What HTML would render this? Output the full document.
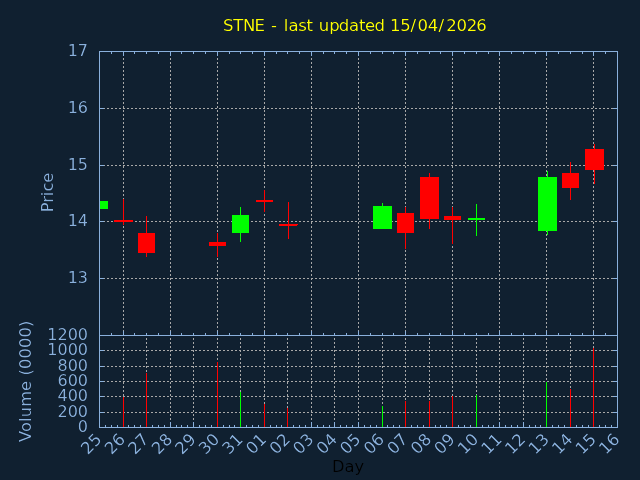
<!DOCTYPE html>
<html><head><meta charset="utf-8"><title>STNE chart</title>
<style>
html,body{margin:0;padding:0;background:#102030;}
svg{display:block;}
.g{stroke:#a8a8a8;stroke-width:1;stroke-dasharray:2 2;fill:none;}
text{font-family:'DejaVu Sans', 'Liberation Sans', sans-serif;font-size:16px;fill:#8ab0dc;}
.t{font-size:16.5px;}
.a{font-size:16.3px;}
</style></head>
<body>
<svg width="640" height="480" viewBox="0 0 640 480" shape-rendering="crispEdges">
<rect x="0" y="0" width="640" height="480" fill="#102030"/>
<g>
<line x1="99" y1="108.5" x2="618" y2="108.5" class="g"/>
<line x1="99" y1="165.5" x2="618" y2="165.5" class="g"/>
<line x1="99" y1="221.5" x2="618" y2="221.5" class="g"/>
<line x1="99" y1="278.5" x2="618" y2="278.5" class="g"/>
<line x1="123.5" y1="336" x2="123.5" y2="51" class="g"/>
<line x1="170.5" y1="336" x2="170.5" y2="51" class="g"/>
<line x1="217.5" y1="336" x2="217.5" y2="51" class="g"/>
<line x1="264.5" y1="336" x2="264.5" y2="51" class="g"/>
<line x1="311.5" y1="336" x2="311.5" y2="51" class="g"/>
<line x1="358.5" y1="336" x2="358.5" y2="51" class="g"/>
<line x1="405.5" y1="336" x2="405.5" y2="51" class="g"/>
<line x1="452.5" y1="336" x2="452.5" y2="51" class="g"/>
<line x1="499.5" y1="336" x2="499.5" y2="51" class="g"/>
<line x1="546.5" y1="336" x2="546.5" y2="51" class="g"/>
<line x1="593.5" y1="336" x2="593.5" y2="51" class="g"/>
<line x1="99" y1="350.5" x2="618" y2="350.5" class="g"/>
<line x1="99" y1="366.5" x2="618" y2="366.5" class="g"/>
<line x1="99" y1="381.5" x2="618" y2="381.5" class="g"/>
<line x1="99" y1="396.5" x2="618" y2="396.5" class="g"/>
<line x1="99" y1="412.5" x2="618" y2="412.5" class="g"/>
<line x1="123.5" y1="428" x2="123.5" y2="335" class="g"/>
<line x1="146.5" y1="428" x2="146.5" y2="335" class="g"/>
<line x1="170.5" y1="428" x2="170.5" y2="335" class="g"/>
<line x1="193.5" y1="428" x2="193.5" y2="335" class="g"/>
<line x1="217.5" y1="428" x2="217.5" y2="335" class="g"/>
<line x1="240.5" y1="428" x2="240.5" y2="335" class="g"/>
<line x1="264.5" y1="428" x2="264.5" y2="335" class="g"/>
<line x1="287.5" y1="428" x2="287.5" y2="335" class="g"/>
<line x1="311.5" y1="428" x2="311.5" y2="335" class="g"/>
<line x1="334.5" y1="428" x2="334.5" y2="335" class="g"/>
<line x1="358.5" y1="428" x2="358.5" y2="335" class="g"/>
<line x1="382.5" y1="428" x2="382.5" y2="335" class="g"/>
<line x1="405.5" y1="428" x2="405.5" y2="335" class="g"/>
<line x1="429.5" y1="428" x2="429.5" y2="335" class="g"/>
<line x1="452.5" y1="428" x2="452.5" y2="335" class="g"/>
<line x1="476.5" y1="428" x2="476.5" y2="335" class="g"/>
<line x1="499.5" y1="428" x2="499.5" y2="335" class="g"/>
<line x1="523.5" y1="428" x2="523.5" y2="335" class="g"/>
<line x1="546.5" y1="428" x2="546.5" y2="335" class="g"/>
<line x1="570.5" y1="428" x2="570.5" y2="335" class="g"/>
<line x1="593.5" y1="428" x2="593.5" y2="335" class="g"/>
</g>
<g fill="#8ab0dc">
<rect x="99" y="51" width="519" height="1"/>
<rect x="99" y="335" width="519" height="1"/>
<rect x="99" y="51" width="1" height="377"/>
<rect x="617" y="51" width="1" height="377"/>
<rect x="99" y="427" width="519" height="1"/>
<rect x="100" y="108" width="4" height="1"/>
<rect x="613" y="108" width="4" height="1"/>
<rect x="100" y="165" width="4" height="1"/>
<rect x="613" y="165" width="4" height="1"/>
<rect x="100" y="221" width="4" height="1"/>
<rect x="613" y="221" width="4" height="1"/>
<rect x="100" y="278" width="4" height="1"/>
<rect x="613" y="278" width="4" height="1"/>
<rect x="111" y="52" width="1" height="2"/>
<rect x="111" y="333" width="1" height="2"/>
<rect x="123" y="52" width="1" height="4"/>
<rect x="123" y="331" width="1" height="4"/>
<rect x="134" y="52" width="1" height="2"/>
<rect x="134" y="333" width="1" height="2"/>
<rect x="146" y="52" width="1" height="2"/>
<rect x="146" y="333" width="1" height="2"/>
<rect x="158" y="52" width="1" height="2"/>
<rect x="158" y="333" width="1" height="2"/>
<rect x="170" y="52" width="1" height="4"/>
<rect x="170" y="331" width="1" height="4"/>
<rect x="181" y="52" width="1" height="2"/>
<rect x="181" y="333" width="1" height="2"/>
<rect x="193" y="52" width="1" height="2"/>
<rect x="193" y="333" width="1" height="2"/>
<rect x="205" y="52" width="1" height="2"/>
<rect x="205" y="333" width="1" height="2"/>
<rect x="217" y="52" width="1" height="4"/>
<rect x="217" y="331" width="1" height="4"/>
<rect x="229" y="52" width="1" height="2"/>
<rect x="229" y="333" width="1" height="2"/>
<rect x="240" y="52" width="1" height="2"/>
<rect x="240" y="333" width="1" height="2"/>
<rect x="252" y="52" width="1" height="2"/>
<rect x="252" y="333" width="1" height="2"/>
<rect x="264" y="52" width="1" height="4"/>
<rect x="264" y="331" width="1" height="4"/>
<rect x="276" y="52" width="1" height="2"/>
<rect x="276" y="333" width="1" height="2"/>
<rect x="287" y="52" width="1" height="2"/>
<rect x="287" y="333" width="1" height="2"/>
<rect x="299" y="52" width="1" height="2"/>
<rect x="299" y="333" width="1" height="2"/>
<rect x="311" y="52" width="1" height="4"/>
<rect x="311" y="331" width="1" height="4"/>
<rect x="323" y="52" width="1" height="2"/>
<rect x="323" y="333" width="1" height="2"/>
<rect x="334" y="52" width="1" height="2"/>
<rect x="334" y="333" width="1" height="2"/>
<rect x="346" y="52" width="1" height="2"/>
<rect x="346" y="333" width="1" height="2"/>
<rect x="358" y="52" width="1" height="4"/>
<rect x="358" y="331" width="1" height="4"/>
<rect x="370" y="52" width="1" height="2"/>
<rect x="370" y="333" width="1" height="2"/>
<rect x="382" y="52" width="1" height="2"/>
<rect x="382" y="333" width="1" height="2"/>
<rect x="393" y="52" width="1" height="2"/>
<rect x="393" y="333" width="1" height="2"/>
<rect x="405" y="52" width="1" height="4"/>
<rect x="405" y="331" width="1" height="4"/>
<rect x="417" y="52" width="1" height="2"/>
<rect x="417" y="333" width="1" height="2"/>
<rect x="429" y="52" width="1" height="2"/>
<rect x="429" y="333" width="1" height="2"/>
<rect x="440" y="52" width="1" height="2"/>
<rect x="440" y="333" width="1" height="2"/>
<rect x="452" y="52" width="1" height="4"/>
<rect x="452" y="331" width="1" height="4"/>
<rect x="464" y="52" width="1" height="2"/>
<rect x="464" y="333" width="1" height="2"/>
<rect x="476" y="52" width="1" height="2"/>
<rect x="476" y="333" width="1" height="2"/>
<rect x="488" y="52" width="1" height="2"/>
<rect x="488" y="333" width="1" height="2"/>
<rect x="499" y="52" width="1" height="4"/>
<rect x="499" y="331" width="1" height="4"/>
<rect x="511" y="52" width="1" height="2"/>
<rect x="511" y="333" width="1" height="2"/>
<rect x="523" y="52" width="1" height="2"/>
<rect x="523" y="333" width="1" height="2"/>
<rect x="535" y="52" width="1" height="2"/>
<rect x="535" y="333" width="1" height="2"/>
<rect x="546" y="52" width="1" height="4"/>
<rect x="546" y="331" width="1" height="4"/>
<rect x="558" y="52" width="1" height="2"/>
<rect x="558" y="333" width="1" height="2"/>
<rect x="570" y="52" width="1" height="2"/>
<rect x="570" y="333" width="1" height="2"/>
<rect x="582" y="52" width="1" height="2"/>
<rect x="582" y="333" width="1" height="2"/>
<rect x="593" y="52" width="1" height="4"/>
<rect x="593" y="331" width="1" height="4"/>
<rect x="605" y="52" width="1" height="2"/>
<rect x="605" y="333" width="1" height="2"/>
<rect x="100" y="350" width="4" height="1"/>
<rect x="613" y="350" width="4" height="1"/>
<rect x="100" y="366" width="4" height="1"/>
<rect x="613" y="366" width="4" height="1"/>
<rect x="100" y="381" width="4" height="1"/>
<rect x="613" y="381" width="4" height="1"/>
<rect x="100" y="396" width="4" height="1"/>
<rect x="613" y="396" width="4" height="1"/>
<rect x="100" y="412" width="4" height="1"/>
<rect x="613" y="412" width="4" height="1"/>
<rect x="105" y="425" width="1" height="2"/>
<rect x="111" y="425" width="1" height="2"/>
<rect x="117" y="425" width="1" height="2"/>
<rect x="123" y="422" width="1" height="5"/>
<rect x="128" y="425" width="1" height="2"/>
<rect x="134" y="425" width="1" height="2"/>
<rect x="140" y="425" width="1" height="2"/>
<rect x="146" y="422" width="1" height="5"/>
<rect x="152" y="425" width="1" height="2"/>
<rect x="158" y="425" width="1" height="2"/>
<rect x="164" y="425" width="1" height="2"/>
<rect x="170" y="422" width="1" height="5"/>
<rect x="176" y="425" width="1" height="2"/>
<rect x="181" y="425" width="1" height="2"/>
<rect x="187" y="425" width="1" height="2"/>
<rect x="193" y="422" width="1" height="5"/>
<rect x="199" y="425" width="1" height="2"/>
<rect x="205" y="425" width="1" height="2"/>
<rect x="211" y="425" width="1" height="2"/>
<rect x="217" y="422" width="1" height="5"/>
<rect x="223" y="425" width="1" height="2"/>
<rect x="229" y="425" width="1" height="2"/>
<rect x="234" y="425" width="1" height="2"/>
<rect x="240" y="422" width="1" height="5"/>
<rect x="246" y="425" width="1" height="2"/>
<rect x="252" y="425" width="1" height="2"/>
<rect x="258" y="425" width="1" height="2"/>
<rect x="264" y="422" width="1" height="5"/>
<rect x="270" y="425" width="1" height="2"/>
<rect x="276" y="425" width="1" height="2"/>
<rect x="281" y="425" width="1" height="2"/>
<rect x="287" y="422" width="1" height="5"/>
<rect x="293" y="425" width="1" height="2"/>
<rect x="299" y="425" width="1" height="2"/>
<rect x="305" y="425" width="1" height="2"/>
<rect x="311" y="422" width="1" height="5"/>
<rect x="317" y="425" width="1" height="2"/>
<rect x="323" y="425" width="1" height="2"/>
<rect x="329" y="425" width="1" height="2"/>
<rect x="334" y="422" width="1" height="5"/>
<rect x="340" y="425" width="1" height="2"/>
<rect x="346" y="425" width="1" height="2"/>
<rect x="352" y="425" width="1" height="2"/>
<rect x="358" y="422" width="1" height="5"/>
<rect x="364" y="425" width="1" height="2"/>
<rect x="370" y="425" width="1" height="2"/>
<rect x="376" y="425" width="1" height="2"/>
<rect x="382" y="422" width="1" height="5"/>
<rect x="387" y="425" width="1" height="2"/>
<rect x="393" y="425" width="1" height="2"/>
<rect x="399" y="425" width="1" height="2"/>
<rect x="405" y="422" width="1" height="5"/>
<rect x="411" y="425" width="1" height="2"/>
<rect x="417" y="425" width="1" height="2"/>
<rect x="423" y="425" width="1" height="2"/>
<rect x="429" y="422" width="1" height="5"/>
<rect x="435" y="425" width="1" height="2"/>
<rect x="440" y="425" width="1" height="2"/>
<rect x="446" y="425" width="1" height="2"/>
<rect x="452" y="422" width="1" height="5"/>
<rect x="458" y="425" width="1" height="2"/>
<rect x="464" y="425" width="1" height="2"/>
<rect x="470" y="425" width="1" height="2"/>
<rect x="476" y="422" width="1" height="5"/>
<rect x="482" y="425" width="1" height="2"/>
<rect x="488" y="425" width="1" height="2"/>
<rect x="493" y="425" width="1" height="2"/>
<rect x="499" y="422" width="1" height="5"/>
<rect x="505" y="425" width="1" height="2"/>
<rect x="511" y="425" width="1" height="2"/>
<rect x="517" y="425" width="1" height="2"/>
<rect x="523" y="422" width="1" height="5"/>
<rect x="529" y="425" width="1" height="2"/>
<rect x="535" y="425" width="1" height="2"/>
<rect x="540" y="425" width="1" height="2"/>
<rect x="546" y="422" width="1" height="5"/>
<rect x="552" y="425" width="1" height="2"/>
<rect x="558" y="425" width="1" height="2"/>
<rect x="564" y="425" width="1" height="2"/>
<rect x="570" y="422" width="1" height="5"/>
<rect x="576" y="425" width="1" height="2"/>
<rect x="582" y="425" width="1" height="2"/>
<rect x="588" y="425" width="1" height="2"/>
<rect x="593" y="422" width="1" height="5"/>
<rect x="599" y="425" width="1" height="2"/>
<rect x="605" y="425" width="1" height="2"/>
<rect x="611" y="425" width="1" height="2"/>
</g>
<g>
<rect x="100" y="201" width="8" height="8" fill="#00ff00"/>
<rect x="123" y="199" width="1" height="26" fill="#ff0000"/>
<rect x="114" y="220" width="19" height="2" fill="#ff0000"/>
<rect x="146" y="216" width="1" height="41" fill="#ff0000"/>
<rect x="138" y="233" width="17" height="20" fill="#ff0000"/>
<rect x="217" y="233" width="1" height="24" fill="#ff0000"/>
<rect x="209" y="242" width="17" height="4" fill="#ff0000"/>
<rect x="240" y="207" width="1" height="35" fill="#00ff00"/>
<rect x="232" y="215" width="17" height="18" fill="#00ff00"/>
<rect x="264" y="190" width="1" height="22" fill="#ff0000"/>
<rect x="256" y="200" width="17" height="2" fill="#ff0000"/>
<rect x="288" y="202" width="1" height="37" fill="#ff0000"/>
<rect x="279" y="224" width="19" height="2" fill="#ff0000"/>
<rect x="382" y="203" width="1" height="3" fill="#00ff00"/>
<rect x="373" y="206" width="19" height="23" fill="#00ff00"/>
<rect x="405" y="207" width="1" height="42" fill="#ff0000"/>
<rect x="397" y="213" width="17" height="20" fill="#ff0000"/>
<rect x="429" y="173" width="1" height="56" fill="#ff0000"/>
<rect x="420" y="177" width="19" height="42" fill="#ff0000"/>
<rect x="452" y="207" width="1" height="37" fill="#ff0000"/>
<rect x="444" y="216" width="17" height="4" fill="#ff0000"/>
<rect x="476" y="204" width="1" height="32" fill="#00ff00"/>
<rect x="468" y="218" width="17" height="2" fill="#00ff00"/>
<rect x="547" y="171" width="1" height="64" fill="#00ff00"/>
<rect x="538" y="177" width="19" height="54" fill="#00ff00"/>
<rect x="570" y="162" width="1" height="38" fill="#ff0000"/>
<rect x="562" y="173" width="17" height="15" fill="#ff0000"/>
<rect x="594" y="144" width="1" height="40" fill="#ff0000"/>
<rect x="585" y="149" width="19" height="21" fill="#ff0000"/>
<rect x="297" y="225" width="1" height="1" fill="#102030"/>
<rect x="123" y="397" width="1" height="30" fill="#ff0000"/>
<rect x="146" y="373" width="1" height="54" fill="#ff0000"/>
<rect x="217" y="362" width="1" height="65" fill="#ff0000"/>
<rect x="240" y="392" width="1" height="35" fill="#00ff00"/>
<rect x="264" y="404" width="1" height="23" fill="#ff0000"/>
<rect x="287" y="408" width="1" height="19" fill="#ff0000"/>
<rect x="382" y="406" width="1" height="21" fill="#00ff00"/>
<rect x="405" y="401" width="1" height="26" fill="#ff0000"/>
<rect x="429" y="401" width="1" height="26" fill="#ff0000"/>
<rect x="452" y="396" width="1" height="31" fill="#ff0000"/>
<rect x="476" y="395" width="1" height="32" fill="#00ff00"/>
<rect x="546" y="382" width="1" height="45" fill="#00ff00"/>
<rect x="570" y="389" width="1" height="38" fill="#ff0000"/>
<rect x="593" y="348" width="1" height="79" fill="#ff0000"/>
</g>
<defs><filter id="thin" x="0" y="0" width="640" height="480" filterUnits="userSpaceOnUse"><feComponentTransfer><feFuncA type="gamma" amplitude="1" exponent="1.5" offset="0"/></feComponentTransfer></filter></defs>
<g filter="url(#thin)">
<text class="t" x="223.03 233.30 243.08 254.52 265.45 271.00 277.65 283.78 288.58 298.29 306.58 312.65 318.70 329.20 338.82 349.10 359.01 364.88 374.54 386.51 389.96 400.24 410.54 417.50 427.70 438.60 446.17 456.55 466.65 476.35" y="31" style="fill:#ffff00">STNE - last updated 15/04/2026</text>
<text x="88" y="56" text-anchor="end">17</text>
<text x="88" y="113" text-anchor="end">16</text>
<text x="88" y="170" text-anchor="end">15</text>
<text x="88" y="226" text-anchor="end">14</text>
<text x="88" y="283" text-anchor="end">13</text>
<text x="88" y="340" text-anchor="end">1200</text>
<text x="88" y="355" text-anchor="end">1000</text>
<text x="88" y="371" text-anchor="end">800</text>
<text x="88" y="386" text-anchor="end">600</text>
<text x="88" y="401" text-anchor="end">400</text>
<text x="88" y="417" text-anchor="end">200</text>
<text x="88" y="432" text-anchor="end">0</text>
<text class="a" transform="translate(52.5,192.5) rotate(-90)" text-anchor="middle">Price</text>
<text class="a" style="letter-spacing:0.12px" transform="translate(31,381.3) rotate(-90)" text-anchor="middle">Volume (0000)</text>
<text class="a" x="348" y="472" style="fill:#000" text-anchor="middle">Day</text>
<text class="t" transform="translate(102.70,440.3) rotate(-45)" text-anchor="end">25</text>
<text class="t" transform="translate(126.25,440.3) rotate(-45)" text-anchor="end">26</text>
<text class="t" transform="translate(149.79,440.3) rotate(-45)" text-anchor="end">27</text>
<text class="t" transform="translate(173.34,440.3) rotate(-45)" text-anchor="end">28</text>
<text class="t" transform="translate(196.88,440.3) rotate(-45)" text-anchor="end">29</text>
<text class="t" transform="translate(220.43,440.3) rotate(-45)" text-anchor="end">30</text>
<text class="t" transform="translate(243.97,440.3) rotate(-45)" text-anchor="end">31</text>
<text class="t" transform="translate(267.52,440.3) rotate(-45)" text-anchor="end">01</text>
<text class="t" transform="translate(291.06,440.3) rotate(-45)" text-anchor="end">02</text>
<text class="t" transform="translate(314.61,440.3) rotate(-45)" text-anchor="end">03</text>
<text class="t" transform="translate(338.15,440.3) rotate(-45)" text-anchor="end">04</text>
<text class="t" transform="translate(361.70,440.3) rotate(-45)" text-anchor="end">05</text>
<text class="t" transform="translate(385.25,440.3) rotate(-45)" text-anchor="end">06</text>
<text class="t" transform="translate(408.79,440.3) rotate(-45)" text-anchor="end">07</text>
<text class="t" transform="translate(432.34,440.3) rotate(-45)" text-anchor="end">08</text>
<text class="t" transform="translate(455.88,440.3) rotate(-45)" text-anchor="end">09</text>
<text class="t" transform="translate(479.43,440.3) rotate(-45)" text-anchor="end">10</text>
<text class="t" transform="translate(502.97,440.3) rotate(-45)" text-anchor="end">11</text>
<text class="t" transform="translate(526.52,440.3) rotate(-45)" text-anchor="end">12</text>
<text class="t" transform="translate(550.06,440.3) rotate(-45)" text-anchor="end">13</text>
<text class="t" transform="translate(573.61,440.3) rotate(-45)" text-anchor="end">14</text>
<text class="t" transform="translate(597.15,440.3) rotate(-45)" text-anchor="end">15</text>
<text class="t" transform="translate(620.70,440.3) rotate(-45)" text-anchor="end">16</text>
</g>
</svg>
</body></html>
